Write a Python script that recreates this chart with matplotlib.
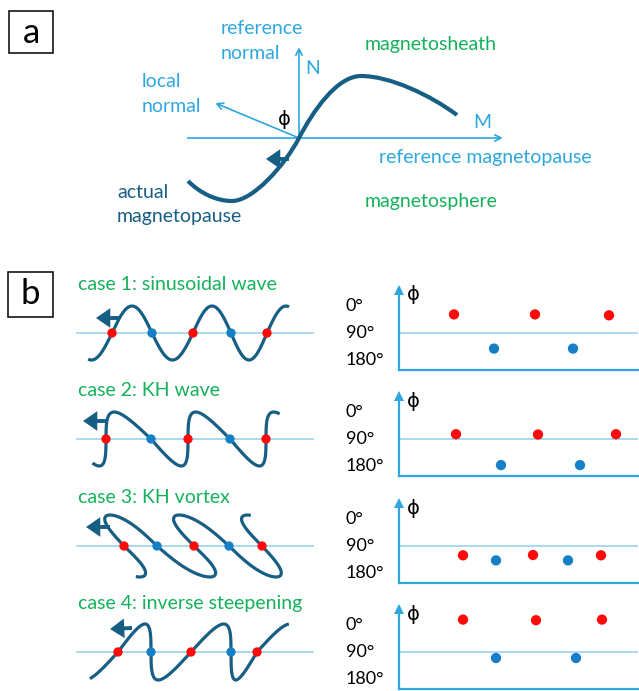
import numpy as np
import matplotlib
matplotlib.use("Agg")
import matplotlib.pyplot as plt
from matplotlib.patches import FancyArrowPatch, Rectangle, PathPatch
from matplotlib.path import Path

plt.rcParams['font.family'] = ['Lato', 'DejaVu Sans']

# ---- data ----
case_titles = ['case 1: sinusoidal wave', 'case 2: KH wave',
               'case 3: KH vortex', 'case 4: inverse steepening']

# positions along M where the boundary crosses the reference line (red, blue, red, blue, red)
cross_1 = [112, 152, 193, 231, 267]
cross_2 = [106, 151, 188, 230, 266]
cross_3 = [124, 157, 194, 229, 262]
cross_4 = [118, 151, 191, 231, 257]

# phi at each crossing (degrees)
phi_1 = [28, 142, 28, 142, 31]
phi_2 = [74, 177, 75, 177, 74]
phi_3 = [121, 138, 120, 138, 121]
phi_4 = [-18, 110, -16, 110, -18]

phi_ticks = [0, 90, 180]
phi_tick_labels = ['0°', '90°', '180°']

# wave shape: amplitude, steepening (+ at red, - at blue, >1 rolls over), phase span
wave_amp = [27, 27, 31, 28]
wave_steep = [0.0, 1.0, 2.9, -1.0]
wave_round = [0.0, 0.0, 0.43, 0.0]
wave_start = [-0.58, -0.65, -0.55, -0.40]
wave_end = [4.58, 4.62, 4.55, 4.48]

# panel a: actual magnetopause key points (start, trough, crossing, peak, end)
mp_x = [188, 232, 299, 361, 457]
mp_y = [181, 201, 138, 76, 115]

# ---- colours ----
DARK = '#175e84'
LIGHT = '#2ea7df'
PALE = '#a3d6ee'
GREEN = '#14b15a'
RED = '#ff0a0a'
BLUE = '#1680c6'

W, H = 639, 691
fig = plt.figure(figsize=(W / 100, H / 100), dpi=100)
ax = fig.add_axes([0, 0, 1, 1])
ax.set_xlim(0, W)
ax.set_ylim(H, 0)
ax.axis('off')

THIN = '->,head_length=0.5,head_width=0.25'
THICK = '-|>,head_length=0.8,head_width=0.55'


def arrow(p0, p1, style, lw, color, ms):
    ax.add_patch(FancyArrowPatch(p0, p1, arrowstyle=style, lw=lw, color=color,
                                 mutation_scale=ms, shrinkA=0, shrinkB=0,
                                 joinstyle='miter', capstyle='butt'))


def wave(cross, line, A, c, c2, t0, t1, n=800):
    cross = np.asarray(cross, float)
    d = np.diff(cross)
    d_ext = np.concatenate([[d[1]], d, [d[-2]]])
    x0 = np.concatenate([[cross[0] - d[1]], cross])
    th = np.linspace(t0, t1, n) * np.pi
    seg = np.clip(np.floor(th / np.pi).astype(int) + 1, 0, len(d_ext) - 1)
    u = th / np.pi - (seg - 1)
    x = x0[seg] + d_ext[seg] * (u - (c * np.sin(th) + c2 * np.sin(2 * th)) / np.pi)
    y = line - A * np.sin(th)
    return x, y


# ---------------- panel a ----------------
ax.add_patch(Rectangle((9, 11), 44, 42, fill=False, lw=1.1, ec='black'))
ax.text(31, 33, 'a', fontsize=25, ha='center', va='center')

ox, oy = mp_x[2], mp_y[2]
arrow((187, oy), (503, oy), THIN, 1.2, LIGHT, 10)
arrow((ox, oy), (ox, 47), THIN, 1.2, LIGHT, 10)
arrow((ox, oy), (215, 103), THIN, 1.2, LIGHT, 10)

verts = [(mp_x[0], mp_y[0]), (200, 193), (216, 201), (mp_x[1], mp_y[1]),
         (253, 201), (285, 165), (mp_x[2], mp_y[2]),
         (313, 111), (337, 76), (mp_x[3], mp_y[3]),
         (390, 76), (430, 95), (mp_x[4], mp_y[4])]
codes = [Path.MOVETO] + [Path.CURVE4] * 12
ax.add_patch(PathPatch(Path(verts, codes), fill=False, lw=3.0, ec=DARK,
                       capstyle='butt', zorder=3))
arrow((289, 159), (266, 159), THICK, 2.8, DARK, 8)

ax.text(221, 28, 'reference', color=LIGHT, fontsize=14, va='center')
ax.text(221, 53, 'normal', color=LIGHT, fontsize=14, va='center')
ax.text(305, 68, 'N', color=LIGHT, fontsize=14, va='center')
ax.text(142, 81, 'local', color=LIGHT, fontsize=14, va='center')
ax.text(142, 106, 'normal', color=LIGHT, fontsize=14, va='center')
ax.text(284, 119, 'ϕ', color='black', fontsize=14, ha='center', va='center',
        family=['DejaVu Sans'])
ax.text(482, 122, 'M', color=LIGHT, fontsize=14, ha='center', va='center')
ax.text(379, 157, 'reference magnetopause', color=LIGHT, fontsize=14, va='center')
ax.text(365, 44, 'magnetosheath', color=GREEN, fontsize=14, va='center')
ax.text(365, 201, 'magnetosphere', color=GREEN, fontsize=14, va='center')
ax.text(117, 192, 'actual', color=DARK, fontsize=14, va='center')
ax.text(117, 216, 'magnetopause', color=DARK, fontsize=14, va='center')

# ---------------- panel b ----------------
ax.add_patch(Rectangle((8, 272), 45, 45, fill=False, lw=1.1, ec='black'))
ax.text(30.5, 294, 'b', fontsize=25, ha='center', va='center')

crosses = [cross_1, cross_2, cross_3, cross_4]
phis = [phi_1, phi_2, phi_3, phi_4]
dot_cols = [RED, BLUE, RED, BLUE, RED]
lines_y = [333, 439, 546, 652]
right_shift = [342, 350, 339, 345]
arrows_b = [((119, 318), (96, 318)), ((107, 421), (83, 421)),
            ((110, 527), (86, 527)), ((132, 628), (110, 629))]
px_per_deg = 0.3

for i in range(4):
    ly = lines_y[i]
    ax.text(78, ly - 49, case_titles[i], color=GREEN, fontsize=14, va='center')
    ax.plot([77, 313], [ly, ly], color=PALE, lw=1.3, zorder=1)
    x, y = wave(crosses[i], ly, wave_amp[i], wave_steep[i], wave_round[i],
                wave_start[i], wave_end[i])
    ax.plot(x, y, color=DARK, lw=2.3, solid_capstyle='butt', zorder=2)
    ax.scatter(crosses[i], [ly] * 5, s=45, c=dot_cols, zorder=4, linewidths=0)
    arrow(arrows_b[i][0], arrows_b[i][1], THICK, 2.8, DARK, 8)

    # phi panel
    top = ly - 45
    bot = ly + 37
    rax = fig.add_axes([399 / W, 1 - bot / H, 239 / W, (bot - top) / H])
    rax.set_ylim(90 + 37 / px_per_deg, 90 - 45 / px_per_deg)
    rax.set_xlim(399 - right_shift[i], 638 - right_shift[i])
    rax.patch.set_alpha(0)
    for s in ['top', 'right']:
        rax.spines[s].set_visible(False)
    for s in ['left', 'bottom']:
        rax.spines[s].set_color(LIGHT)
        rax.spines[s].set_linewidth(1.6)
    rax.set_xticks([])
    rax.set_yticks([])
    rax.axhline(90, color=PALE, lw=1.3)
    rax.scatter(crosses[i], phis[i], s=55, c=dot_cols, linewidths=0, zorder=3)
    rax.plot([0], [90 - 43 / px_per_deg], marker='^', ms=7, color=LIGHT,
             transform=rax.get_yaxis_transform(), clip_on=False, mew=0)
    tr = rax.get_yaxis_transform()
    for t, lab in zip(phi_ticks, phi_tick_labels):
        rax.text(-53 / 239, t, lab, transform=tr, fontsize=13, ha='left', va='center')
    rax.text(14 / 239, 90 - 38 / px_per_deg, 'ϕ', transform=tr, fontsize=14,
             ha='center', va='center', family=['DejaVu Sans'])

fig.savefig('out.png', dpi=100)
